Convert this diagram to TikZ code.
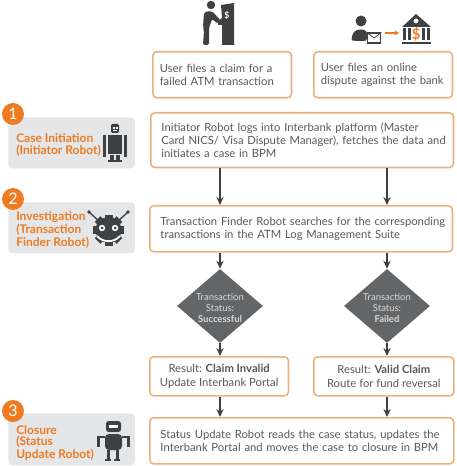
\documentclass[tikz,border=0pt]{standalone}
\usepackage{fontspec}
\setmainfont{Lato}
\usepackage{tikz}
\usetikzlibrary{shapes.geometric,arrows.meta,calc}
\definecolor{boxline}{HTML}{EBB27F}
\definecolor{stepcol}{HTML}{EE7B22}
\definecolor{panelcol}{HTML}{E5E6E8}
\definecolor{darkcol}{HTML}{3F4042}
\definecolor{diacol}{HTML}{646567}
\definecolor{txtcol}{HTML}{58595B}
\tikzset{
  flowbox/.style={draw=boxline,line width=1.2pt,rounded corners=3pt,fill=white,anchor=north west,inner sep=0pt,
    text=txtcol,font=\fontsize{8.45pt}{10pt}\selectfont},
  flowtext/.style 2 args={text width=#1,execute at begin node={\leftskip=#2\rightskip=0pt plus 1fil\relax\parindent=0pt}},
  panel/.style={fill=panelcol,rounded corners=3pt,anchor=north west,minimum width=95pt,inner sep=0pt},
  steplabel/.style={anchor=west,text=stepcol,align=left,font=\fontsize{9pt}{8.4pt}\selectfont\bfseries,inner sep=0pt},
  stepnum/.style={circle,fill=stepcol,text=white,minimum size=16.5pt,inner sep=0pt,font=\fontsize{12pt}{12pt}\selectfont},
  decision/.style={diamond,fill=diacol,minimum width=64.5pt,minimum height=55.5pt,inner sep=0pt},
  decisiontext/.style={text=white!85!black,inner sep=0pt,align=center,font=\fontsize{7.1pt}{8.25pt}\selectfont},
  flow/.style={-{Stealth[length=6pt,width=5.5pt]},draw=darkcol,line width=0.9pt},
  icon/.style={fill=darkcol,draw=none}
}
\begin{document}
\begin{tikzpicture}[x=0.75pt,y=-0.75pt]
\useasboundingbox (0,0) rectangle (456,466);
% grey panels on the left
\node[panel,minimum height=38.25pt] (p_1) at (8,117) {};
\node[panel,minimum height=38.25pt] (p_2) at (8,202) {};
\node[panel,minimum height=39pt] (p_3) at (8,413) {};
\node[stepnum] (n_1) at (13,114) {1};
\node[stepnum] (n_2) at (13,199) {2};
\node[stepnum] (n_3) at (13,411) {3};
\node[steplabel] (l_1) at (16,145) {Case Initiation\\(Initiator Robot)};
\node[steplabel] (l_2) at (16,230) {Investigation\\(Transaction\\Finder Robot)};
\node[steplabel] (l_3) at (16,443) {Closure\\(Status\\Update Robot)};
% boxes
\node[flowbox,flowtext={104pt}{5.25pt},minimum height=34.5pt] (claim) at (152,51) {User files a claim for a\\failed ATM transaction};
\node[flowbox,flowtext={104pt}{5.25pt},minimum height=34.5pt] (dispute) at (313,51) {User files an online\\dispute against the bank};
\node[flowbox,flowtext={227pt}{8pt},minimum height=41pt] (init) at (150,112) {Initiator Robot logs into Interbank platform (Master\\Card NICS/ Visa Dispute Manager), fetches the data and\\initiates a case in BPM};
\node[flowbox,flowtext={227pt}{8pt},minimum height=34.5pt] (find) at (149,205) {Transaction Finder Robot searches for the corresponding\\transactions in the ATM Log Management Suite};
\node[decision] (d_1) at (220,306) {};
\node[decision] (d_2) at (387,306) {};
\node[decisiontext] (t_1) at (220,308) {Transaction\\Status:\\\textbf{Successful}};
\node[decisiontext] (t_2) at (387,308) {Transaction\\Status:\\\textbf{Failed}};
\node[flowbox,minimum width=104pt,minimum height=29.25pt,align=center] (r_1) at (149,356) {Result: \textbf{Claim Invalid}\\Update Interbank Portal};
\node[flowbox,minimum width=105pt,minimum height=29.25pt,align=center] (r_2) at (313,356) {Result: \textbf{Valid Claim}\\Route for fund reversal};
\node[flowbox,flowtext={228pt}{8pt},minimum height=34.5pt] (close) at (149,417) {Status Update Robot reads the case status, updates the\\Interbank Portal and moves the case to closure in BPM};
% connectors
\draw[flow] (init.south -| d_1) -- (find.north -| d_1);
\draw[flow] (init.south -| d_2) -- (find.north -| d_2);
\draw[flow] (find.south -| d_1) -- (d_1.north);
\draw[flow] (find.south -| d_2) -- (d_2.north);
\draw[flow] (d_1.south) -- (r_1.north -| d_1);
\draw[flow] (d_2.south) -- (r_2.north -| d_2);
\draw[flow] (r_1.south -| d_1) -- (close.north -| d_1);
\draw[flow] (r_2.south -| d_2) -- (close.north -| d_2);
% icon: man at the cash machine
\fill[icon] (221,5) -- (234,3) -- (234,45) -- (222,45) -- (222,25) -- (218,25) -- (218,21) -- (222,18) -- cycle;
\fill[icon] (211,5) circle (4.2);
\fill[icon,rounded corners=1.5pt] (204,12) -- (212,11) -- (221,21) -- (218,24) -- (212,19) -- (209,28) -- (209,45) -- (203,45) -- (204,30) -- (203,27) -- cycle;
\node[text=white,font=\fontsize{6.5pt}{7pt}\selectfont\bfseries,inner sep=0pt] (atm) at (227,15) {\$};
% icon: user mail to bank
\fill[icon] (361,21) circle (5.5);
\fill[icon,rounded corners=2pt] (351,39) -- (354,31) -- (361,29) -- (367,31) -- (367,41) -- (353,41) -- cycle;
\node[draw=darkcol,fill=white,line width=1pt,minimum width=10pt,minimum height=7.5pt,inner sep=0pt] (mail) at (374,38) {};
\draw[darkcol,line width=0.6pt] (mail.north west) -- (mail.center) -- (mail.north east);
\coordinate (from) at (385,33);
\coordinate (to) at (399,33);
\draw[-{Stealth[length=3.5pt,width=4pt]},draw=stepcol,line width=1pt] (from) -- (to);
\fill[icon] (402,27) -- (416,14) -- (431,27) -- cycle;
\fill[white] (416,21) circle (2.5);
\fill[icon] (402,42) rectangle (431,44.5);
\foreach \x in {403,408,422,427} \fill[icon] (\x,28) rectangle +(2.5,12);
\node[text=stepcol,font=\fontsize{11pt}{11pt}\selectfont\bfseries,inner sep=0pt] (bank) at (416,34) {\$};
% icon: robot 1
\fill[icon,rounded corners=1pt] (111,124) rectangle (119,133);
\fill[white] (112.5,127) rectangle +(2,2);
\fill[white] (115.5,127) rectangle +(2,2);
\fill[white] (113,130.5) rectangle (117,131.5);
\fill[icon] (108,135) rectangle (122,154);
\fill[icon] (103,135) rectangle (106,157);
\fill[icon] (124,135) rectangle (127,157);
\fill[icon] (110,155) rectangle (114,162);
\fill[icon] (116,155) rectangle (120,162);
\fill[icon] (108,160) rectangle (122,162.5);
% icon: robot 2
\draw[darkcol,line width=1pt] (89,212) -- (100,222);
\draw[darkcol,line width=1pt] (128,212) -- (117,222);
\fill[icon] (89,212) circle (1.8);
\fill[icon] (128,212) circle (1.8);
\fill[icon] (108.5,230) circle (13);
\foreach \a in {0,45,...,135} \fill[icon,rotate around={\a:(108.5,230)}] (104.5,214.5) rectangle (112.5,245.5);
\fill[white] (102,228) circle (3.2);
\fill[white] (115,228) circle (3.2);
\fill[icon] (102,228) circle (1.5);
\fill[icon] (115,228) circle (1.5);
\draw[white,line width=1.4pt] (97,236) to[bend right=50] (120,236);
% icon: robot 3
\fill[icon,rounded corners=2pt] (106,421) rectangle (121,432);
\fill[white] (109,425) rectangle (118,428);
\fill[icon,rounded corners=3pt] (105,434) rectangle (122,450);
\fill[icon] (107,450) rectangle (110,460);
\fill[icon] (116,450) rectangle (119,460);
\fill[icon] (105,459) rectangle (111,461);
\fill[icon] (114,459) rectangle (120,461);
\fill[icon] (97,436) rectangle (105,438);
\fill[icon] (122,436) rectangle (130,438);
\fill[icon] (97,438) rectangle (100,447);
\fill[icon] (127,438) rectangle (130,447);
\end{tikzpicture}
\end{document}
